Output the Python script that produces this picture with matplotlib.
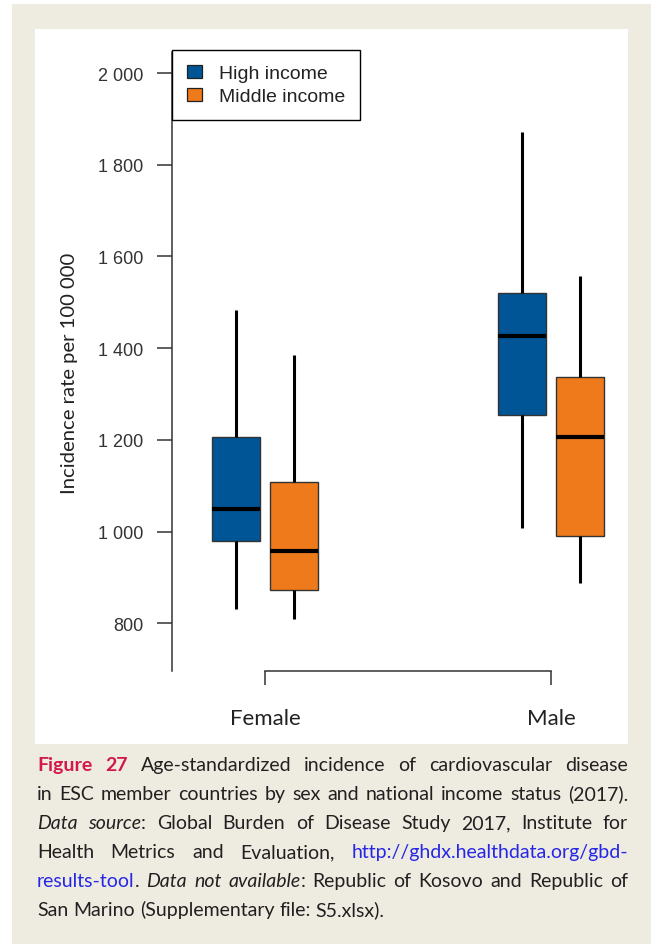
import matplotlib
matplotlib.use('Agg')
import matplotlib.pyplot as plt
from matplotlib.patches import Patch, Rectangle

# data
groups = ['Female', 'Male']
income = ['High income', 'Middle income']
colors = ['#005596', '#EE7A1C']

# whisker low, lower quartile, median, upper quartile, whisker high
high_lo = [831, 1007]
high_q1 = [979, 1254]
high_med = [1049, 1426]
high_q3 = [1207, 1520]
high_hi = [1484, 1871]

mid_lo = [809, 888]
mid_q1 = [873, 990]
mid_med = [958, 1206]
mid_q3 = [1108, 1338]
mid_hi = [1386, 1558]

yticks = [800, 1000, 1200, 1400, 1600, 1800, 2000]
ytick_labels = ['800', '1 000', '1 200', '1 400', '1 600', '1 800', '2 000']

caption = [
    [('Figure 27', 'fig'), (' Age-standardized incidence of cardiovascular disease', 'n')],
    [('in ESC member countries by sex and national income status (2017).', 'n')],
    [('Data source', 'it'), (': Global Burden of Disease Study 2017, Institute for', 'n')],
    [('Health Metrics and Evaluation, ', 'n'), ('http://ghdx.healthdata.org/gbd-', 'link')],
    [('results-tool', 'link'), ('. ', 'n'), ('Data not available', 'it'),
     (': Republic of Kosovo and Republic of', 'n')],
    [('San Marino (Supplementary file: S5.xlsx).', 'n')],
]

plt.rcParams['font.family'] = ['Liberation Sans', 'DejaVu Sans']

W, H = 654, 945
fig = plt.figure(figsize=(W / 100, H / 100), dpi=100)
fig.patch.set_facecolor('white')

# beige frame and white chart panel
fig.add_artist(Rectangle((12 / W, 0), (651 - 12) / W, (945 - 5) / H, transform=fig.transFigure,
                         facecolor='#EEEBE1', edgecolor='none', zorder=-5))
fig.add_artist(Rectangle((35 / W, (H - 745) / H), (628 - 35) / W, (745 - 30) / H,
                         transform=fig.transFigure, facecolor='white', edgecolor='none', zorder=-4))

ax = fig.add_axes([172 / W, (H - 672) / H, (628 - 172) / W, (672 - 46.5) / H])
ax.set_facecolor('none')

pos = [1, 2]
off = 0.1
wbox = 0.168

def stats(lo, q1, med, q3, hi):
    return [dict(whislo=lo[i], q1=q1[i], med=med[i], q3=q3[i], whishi=hi[i], fliers=[])
            for i in range(len(lo))]

sets = [stats(high_lo, high_q1, high_med, high_q3, high_hi),
        stats(mid_lo, mid_q1, mid_med, mid_q3, mid_hi)]
for k, st in enumerate(sets):
    p = [x + (-off if k == 0 else off) for x in pos]
    ax.bxp(st, positions=p, widths=wbox, patch_artist=True, showcaps=False, showfliers=False,
           boxprops=dict(facecolor=colors[k], edgecolor='#333333', linewidth=1.0),
           medianprops=dict(color='black', linewidth=3.0, solid_capstyle='butt'),
           whiskerprops=dict(color='black', linewidth=2.2, solid_capstyle='butt'))

ax.set_xlim(0.675, 2.269)
ax.set_ylim(696, 2060)

for s in ['top', 'right']:
    ax.spines[s].set_visible(False)
ax.spines['left'].set_bounds(696, 2045)
ax.spines['bottom'].set_bounds(1, 2)
for s in ['left', 'bottom']:
    ax.spines[s].set_color('#333333')
    ax.spines[s].set_linewidth(1.1)

ax.set_yticks(yticks, ytick_labels, fontsize=13, fontfamily='Liberation Sans', color='#333333')
ax.set_xticks(pos, groups, fontsize=16, fontfamily='Lato', color='#222222')
ax.tick_params(axis='y', length=10.5, width=1.1, color='#333333', pad=10)
ax.tick_params(axis='x', length=10, width=1.1, color='#333333', pad=16.5)

ax.set_ylabel('Incidence rate per 100 000', fontsize=14.6, fontfamily='Lato', color='#222222')
ax.yaxis.label.set_va('center')
ax.yaxis.set_label_coords((70 - 172) / 456, (672 - 373) / 625.5)

handles = [Patch(facecolor=colors[i], edgecolor='#222222', linewidth=0.9, label=income[i])
           for i in range(2)]
leg = ax.legend(handles=handles, loc='upper left', bbox_to_anchor=(0, (672 - 51) / 625.5),
                borderaxespad=0, frameon=True, fancybox=False, edgecolor='black', framealpha=1,
                prop=dict(family='Liberation Sans', size=14), handlelength=0.78,
                handleheight=0.68, handletextpad=0.9, borderpad=0.75, labelspacing=0.3)
leg.get_frame().set_linewidth(1.0)
for t in leg.get_texts():
    t.set_color('#222222')

# caption, justified between two margins
cs = 14
styles = {
    'n': dict(color='#231F20'),
    'it': dict(color='#231F20', fontstyle='italic'),
    'fig': dict(color='#D2194A', fontweight='bold'),
    'link': dict(color='#2626E6'),
}

def to_words(segs):
    words = []
    glue = False
    for txt, st in segs:
        parts = txt.split(' ')
        for i, p in enumerate(parts):
            if p == '':
                glue = False
                continue
            if i == 0 and glue and words:
                words[-1].append((p, st))
            else:
                words.append([(p, st)])
            glue = True
    return words

fig.canvas.draw()
renderer = fig.canvas.get_renderer()
left_px, right_px = 37, 628
base0, step = 771, 29

def text_w(s, **kw):
    w, h, d = renderer.get_text_width_height_descent(
        s, matplotlib.font_manager.FontProperties(family='Lato', size=cs,
                                                  style=kw.get('fontstyle', 'normal'),
                                                  weight=kw.get('fontweight', 'normal')),
        ismath=False)
    return w

space_w = text_w('a a') - text_w('aa')

for li, segs in enumerate(caption):
    words = to_words(segs)
    items = []
    total = 0
    for w in words:
        pieces = []
        ww = 0
        for p, st in w:
            t = fig.text(0, 0, p, fontsize=cs, fontfamily='Lato', va='baseline', ha='left', **styles[st])
            pieces.append((t, ww))
            ww += text_w(p, **styles[st])
        items.append((pieces, ww))
        total += ww
    if li < len(caption) - 1 and len(items) > 1:
        gap = (right_px - left_px - total) / (len(items) - 1)
    else:
        gap = space_w
    x = left_px
    yb = base0 + li * step
    for pieces, ww in items:
        for t, dx in pieces:
            t.set_position(((x + dx) / W, (H - yb) / H))
        x += ww + gap

fig.savefig('out.png', dpi=100)
